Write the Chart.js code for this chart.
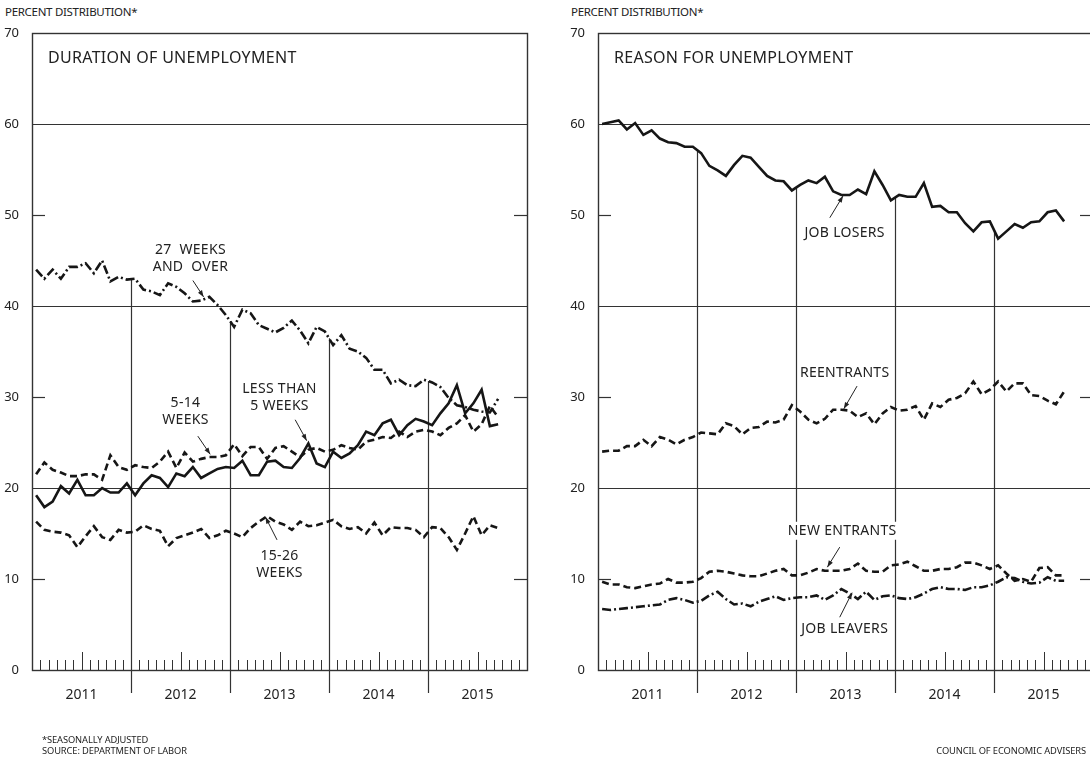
<!DOCTYPE html>
<html>
<head>
<meta charset="utf-8">
<script src="https://cdn.jsdelivr.net/npm/chart.js@4.4.1/dist/chart.umd.min.js"></script>
<style>
	body { margin: 0; width: 1090px; height: 761px; overflow: hidden; background: #fff; color: #222; font-family: "Noto Sans", Lato, sans-serif; }
	.panel { position: absolute; top: 0; width: 545px; height: 761px; }
	.unit { position: absolute; top: 4px; font-size: 11.5px; letter-spacing: -0.3px; }
	.note { position: absolute; font-size: 9.3px; line-height: 11px; letter-spacing: -0.1px; }
</style>
</head>
<body>
<div class="unit" style="left:5px">PERCENT DISTRIBUTION*</div>
<div class="unit" style="left:571px">PERCENT DISTRIBUTION*</div>
<canvas id="durationChart" class="panel" style="left:0" width="545" height="761"></canvas>
<canvas id="reasonChart" class="panel" style="left:566px" width="545" height="761"></canvas>
<div class="note" style="left:42px; top:734px">*SEASONALLY ADJUSTED<br>SOURCE: DEPARTMENT OF LABOR</div>
<div class="note" style="right:4px; top:745px">COUNCIL OF ECONOMIC ADVISERS</div>

<script>
	'use strict';

	// monthly, Jan 2011 - Sep 2015, percent of unemployed
	var years = ['2011', '2012', '2013', '2014', '2015'];

	var lessThan5Weeks = [
		19.2, 17.9, 18.5, 20.2, 19.4, 20.9, 19.2, 19.2, 20.0, 19.5, 19.5, 20.5,
		19.2, 20.5, 21.4, 21.1, 20.1, 21.6, 21.3, 22.3, 21.1, 21.6, 22.1, 22.3,
		22.2, 23.0, 21.4, 21.4, 22.9, 23.0, 22.3, 22.2, 23.3, 24.9, 22.7, 22.3,
		24.0, 23.3, 23.8, 24.7, 26.2, 25.8, 27.1, 27.5, 25.8, 26.9, 27.6, 27.3,
		26.9, 28.2, 29.3, 31.3, 28.2, 29.3, 30.8, 26.8, 27.0
	];
	var fiveTo14Weeks = [
		21.5, 22.8, 22.0, 21.7, 21.3, 21.3, 21.5, 21.5, 20.9, 23.6, 22.3, 22.0,
		22.5, 22.3, 22.2, 22.9, 24.0, 22.2, 23.9, 22.9, 23.2, 23.4, 23.4, 23.6,
		24.8, 23.5, 24.5, 24.5, 23.2, 24.4, 24.6, 24.0, 23.4, 24.2, 24.4, 24.0,
		24.2, 24.7, 24.4, 24.2, 25.1, 25.3, 25.6, 25.5, 26.2, 25.6, 26.2, 26.4,
		26.2, 25.8, 26.6, 27.1, 28.0, 26.2, 27.0, 29.0, 27.8
	];
	var fifteenTo26Weeks = [
		16.3, 15.4, 15.2, 15.1, 14.8, 13.5, 14.7, 15.8, 14.6, 14.3, 15.4, 15.1,
		15.2, 15.9, 15.5, 15.3, 13.6, 14.5, 14.8, 15.1, 15.5, 14.5, 14.8, 15.3,
		15.0, 14.6, 15.6, 16.3, 16.9, 16.3, 16.0, 15.4, 16.3, 15.8, 15.9, 16.2,
		16.5, 15.8, 15.5, 15.7, 15.0, 16.2, 14.8, 15.7, 15.6, 15.6, 15.4, 14.6,
		15.7, 15.6, 14.6, 13.2, 15.0, 16.9, 14.8, 15.9, 15.6
	];
	var over27Weeks = [
		44.0, 43.0, 44.0, 43.0, 44.3, 44.3, 44.7, 43.6, 45.0, 42.7, 43.2, 42.9,
		43.0, 41.8, 41.6, 41.2, 42.5, 42.1, 41.4, 40.5, 40.6, 41.0, 40.1, 39.0,
		37.7, 39.6, 39.2, 37.9, 37.5, 37.1, 37.6, 38.4, 37.3, 35.9, 37.7, 37.2,
		35.7, 36.8, 35.3, 35.0, 34.3, 33.0, 33.0, 31.5, 31.9, 31.3, 31.2, 31.9,
		31.6, 31.1, 29.9, 29.1, 28.9, 28.6, 28.4, 28.3, 29.8
	];

	var jobLosers = [
		60.0, 60.2, 60.4, 59.4, 60.1, 58.8, 59.3, 58.4, 58.0, 57.9, 57.5, 57.5,
		56.8, 55.4, 54.9, 54.3, 55.5, 56.5, 56.3, 55.3, 54.3, 53.8, 53.7, 52.7,
		53.3, 53.8, 53.5, 54.2, 52.6, 52.2, 52.2, 52.8, 52.3, 54.8, 53.3, 51.6,
		52.2, 52.0, 52.0, 53.5, 50.9, 51.0, 50.3, 50.3, 49.1, 48.2, 49.2, 49.3,
		47.4, 48.2, 49.0, 48.6, 49.2, 49.3, 50.3, 50.5, 49.3
	];
	var reentrants = [
		24.0, 24.1, 24.1, 24.6, 24.6, 25.3, 24.6, 25.6, 25.3, 24.8, 25.3, 25.6,
		26.1, 26.0, 25.9, 27.1, 26.8, 25.9, 26.6, 26.7, 27.3, 27.2, 27.5, 29.1,
		28.4, 27.5, 27.1, 27.6, 28.6, 28.6, 28.5, 27.8, 28.2, 27.0, 28.2, 28.9,
		28.5, 28.6, 29.0, 27.5, 29.3, 28.9, 29.7, 29.9, 30.4, 31.7, 30.3, 30.8,
		31.7, 30.6, 31.5, 31.5, 30.2, 30.1, 29.6, 29.2, 30.6
	];
	var newEntrants = [
		9.7, 9.4, 9.4, 9.1, 9.0, 9.2, 9.4, 9.5, 10.0, 9.6, 9.6, 9.7,
		10.1, 10.8, 10.9, 10.8, 10.6, 10.4, 10.3, 10.3, 10.6, 10.9, 11.1, 10.4,
		10.4, 10.7, 11.1, 10.9, 10.9, 10.9, 11.1, 11.7, 10.9, 10.8, 10.8, 11.5,
		11.6, 11.9, 11.4, 10.9, 10.9, 11.1, 11.1, 11.3, 11.8, 11.8, 11.5, 11.1,
		11.5, 10.6, 9.8, 10.0, 9.7, 11.2, 11.3, 10.4, 10.4
	];
	var jobLeavers = [
		6.7, 6.6, 6.7, 6.8, 6.9, 7.0, 7.1, 7.2, 7.7, 7.9, 7.7, 7.4,
		7.6, 8.2, 8.6, 7.8, 7.2, 7.3, 7.0, 7.5, 7.8, 8.1, 7.7, 7.9,
		8.0, 8.0, 8.2, 7.7, 8.2, 8.9, 8.4, 7.8, 8.6, 7.7, 8.1, 8.2,
		7.9, 7.8, 8.0, 8.4, 8.9, 9.1, 8.9, 8.9, 8.8, 9.1, 9.1, 9.3,
		9.7, 10.2, 10.1, 9.7, 9.5, 9.6, 10.2, 9.8, 9.8
	];

	var SOLID = [];
	var DASH = [7, 4];
	var DASH_DOT = [9, 3, 2, 3];
	var FONT = '"Noto Sans", Lato, sans-serif';

	// labels and arrows, placed in (month, percent) units
	var durationNotes = [
		{ lines: ['27  WEEKS', 'AND  OVER'], m: 19.2, v: 46.2, arrow: [19.5, 42.8, 20.8, 41.0] },
		{ lines: ['5-14', 'WEEKS'], m: 18.6, v: 29.3, arrow: [20.1, 25.7, 21.6, 23.7] },
		{ lines: ['LESS THAN', '5 WEEKS'], m: 30.0, v: 30.9, arrow: [31.9, 27.5, 33.3, 25.2] },
		{ lines: ['15-26', 'WEEKS'], m: 30.0, v: 12.5, arrow: [29.7, 14.3, 28.3, 16.8] }
	];
	var reasonNotes = [
		{ lines: ['JOB LOSERS'], m: 29.9, v: 48.0, arrow: [28.1, 49.7, 29.7, 52.1] },
		{ lines: ['REENTRANTS'], m: 29.9, v: 32.6, arrow: [31.4, 31.2, 29.8, 28.7] },
		{ lines: ['NEW ENTRANTS'], m: 29.6, v: 15.3, arrow: [29.3, 13.5, 27.8, 11.3], clear: true },
		{ lines: ['JOB LEAVERS'], m: 29.9, v: 4.5, arrow: [29.3, 5.8, 30.8, 8.5] }
	];

	function toPoints(values) {
		return values.map(function(v, i) { return { x: i + 0.5, y: v }; });
	}

	function makeDataset(values, dash) {
		return {
			data: toPoints(values),
			borderColor: '#161616',
			borderWidth: 2.6,
			borderDash: dash,
			borderCapStyle: 'butt',
			borderJoinStyle: 'miter',
			pointRadius: 0,
			tension: 0,
			fill: false
		};
	}

	function strokeLine(ctx, x1, y1, x2, y2) {
		ctx.beginPath();
		ctx.moveTo(x1, y1);
		ctx.lineTo(x2, y2);
		ctx.stroke();
	}

	// box, grid, month ticks and year separators
	var frameDecor = {
		id: 'frameDecor',
		beforeDatasetsDraw: function(chart, args, opts) {
			var ctx = chart.ctx;
			var a = chart.chartArea;
			var xs = chart.scales.x;
			var ys = chart.scales.y;
			var top = chart.data.datasets[opts.topSeries].data;

			ctx.save();
			ctx.strokeStyle = '#333';
			ctx.lineWidth = 1.2;

			[20, 40, 60].forEach(function(v) {
				var y = Math.round(ys.getPixelForValue(v)) + 0.5;
				strokeLine(ctx, a.left, y, a.right, y);
			});
			[10, 30, 50].forEach(function(v) {
				var y = Math.round(ys.getPixelForValue(v)) + 0.5;
				strokeLine(ctx, a.left, y, a.left + 13, y);
				strokeLine(ctx, a.right - 13, y, a.right, y);
			});

			ctx.lineWidth = 1;
			for (var m = 1; m < 60; m++) {
				if (m % 12 === 0) continue;
				var x = Math.round(xs.getPixelForValue(m)) + 0.5;
				var len = (m % 12 === 6) ? 18 : 10;
				strokeLine(ctx, x, a.bottom, x, a.bottom - len);
			}

			ctx.lineWidth = 1.2;
			for (var k = 1; k < years.length; k++) {
				var mb = k * 12;
				var vTop = (top[mb - 1].y + top[mb].y) / 2;
				var xb = Math.round(xs.getPixelForValue(mb)) + 0.5;
				strokeLine(ctx, xb, ys.getPixelForValue(vTop), xb, a.bottom + 23);
			}

			ctx.lineWidth = 1.4;
			ctx.strokeRect(a.left + 0.5, a.top + 0.5, a.right - a.left, a.bottom - a.top);
			ctx.restore();
		}
	};

	// panel title, series labels and pointer arrows
	var noteDecor = {
		id: 'noteDecor',
		afterDatasetsDraw: function(chart, args, opts) {
			var ctx = chart.ctx;
			var a = chart.chartArea;
			var xs = chart.scales.x;
			var ys = chart.scales.y;

			ctx.save();
			ctx.fillStyle = '#222';
			ctx.textBaseline = 'middle';
			ctx.font = '16px ' + FONT;
			ctx.letterSpacing = '0.3px';
			ctx.textAlign = 'left';
			ctx.fillText(opts.title, a.left + 16, a.top + 25);

			ctx.font = '14px ' + FONT;
			ctx.letterSpacing = '0.3px';
			ctx.textAlign = 'center';
			opts.notes.forEach(function(n) {
				var cx = xs.getPixelForValue(n.m);
				var cy = ys.getPixelForValue(n.v);
				n.lines.forEach(function(t, j) {
					var ty = cy + j * 17;
					if (n.clear) {
						var w = ctx.measureText(t).width;
						ctx.fillStyle = '#fff';
						ctx.fillRect(cx - w / 2 - 3, ty - 9, w + 6, 18);
						ctx.fillStyle = '#222';
					}
					ctx.fillText(t, cx, ty);
				});

				var x1 = xs.getPixelForValue(n.arrow[0]), y1 = ys.getPixelForValue(n.arrow[1]);
				var x2 = xs.getPixelForValue(n.arrow[2]), y2 = ys.getPixelForValue(n.arrow[3]);
				var ang = Math.atan2(y2 - y1, x2 - x1);
				ctx.strokeStyle = '#222';
				ctx.lineWidth = 1;
				strokeLine(ctx, x1, y1, x2, y2);
				ctx.beginPath();
				ctx.moveTo(x2, y2);
				ctx.lineTo(x2 - 7 * Math.cos(ang - 0.35), y2 - 7 * Math.sin(ang - 0.35));
				ctx.lineTo(x2 - 7 * Math.cos(ang + 0.35), y2 - 7 * Math.sin(ang + 0.35));
				ctx.closePath();
				ctx.fill();
			});
			ctx.restore();
		}
	};

	function buildPanel(canvasId, title, datasets, notes, topSeries) {
		return new Chart(document.getElementById(canvasId), {
			type: 'line',
			data: { datasets: datasets },
			plugins: [frameDecor, noteDecor],
			options: {
				responsive: false,
				animation: false,
				devicePixelRatio: 1,
				layout: { padding: { top: 33, right: 18, left: 0, bottom: 0 } },
				plugins: {
					legend: { display: false },
					tooltip: { enabled: false },
					frameDecor: { topSeries: topSeries },
					noteDecor: { title: title, notes: notes }
				},
				scales: {
					x: {
						type: 'linear',
						min: 0,
						max: 60,
						grid: { display: false },
						border: { display: false },
						afterBuildTicks: function(scale) {
							scale.ticks = years.map(function(y, k) { return { value: k * 12 + 6 }; });
						},
						afterFit: function(scale) { scale.height = 91; },
						ticks: {
							autoSkip: false,
							maxRotation: 0,
							padding: 9,
							color: '#222',
							font: { family: FONT, size: 14 },
							callback: function(value, index) { return years[index]; }
						}
					},
					y: {
						min: 0,
						max: 70,
						grid: { display: false },
						border: { display: false },
						afterFit: function(scale) { scale.width = 32; },
						ticks: {
							stepSize: 10,
							padding: 5,
							color: '#222',
							font: { family: FONT, size: 13 }
						}
					}
				}
			}
		});
	}

	buildPanel('durationChart', 'DURATION OF UNEMPLOYMENT', [
		makeDataset(over27Weeks, DASH_DOT),
		makeDataset(lessThan5Weeks, SOLID),
		makeDataset(fiveTo14Weeks, DASH),
		makeDataset(fifteenTo26Weeks, DASH)
	], durationNotes, 0);

	buildPanel('reasonChart', 'REASON FOR UNEMPLOYMENT', [
		makeDataset(jobLosers, SOLID),
		makeDataset(reentrants, DASH),
		makeDataset(newEntrants, DASH),
		makeDataset(jobLeavers, DASH_DOT)
	], reasonNotes, 0);
</script>
</body>
</html>
